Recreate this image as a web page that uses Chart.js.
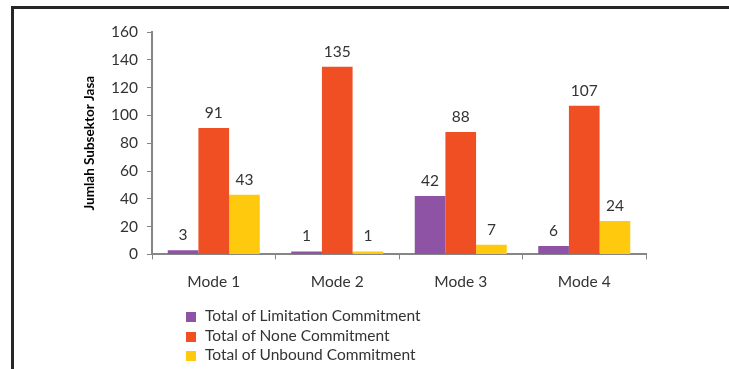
<!DOCTYPE html>
<html>
<head>
<meta charset="utf-8">
<script src="https://cdn.jsdelivr.net/npm/chart.js@4"></script>
<style>
  body { margin: 0; background: #fff; }
  #wrap { position: relative; width: 729px; height: 369px; overflow: hidden; }
  #frame { position: absolute; left: 11px; top: 6px; width: 740px; height: 400px;
           border-top: 3px solid #262626; border-left: 3px solid #262626; }
  #chart { position: absolute; left: 0; top: 0; }
  #legend { position: absolute; left: 186px; top: 306px; font: 15.5px Lato, sans-serif; color: #333; }
  #legend div { height: 19.7px; line-height: 19.7px; white-space: nowrap; }
  #legend span { display: inline-block; width: 10px; height: 10px; margin-right: 9px; vertical-align: -1px; }
</style>
</head>
<body>
<div id="wrap">
  <div id="frame"></div>
  <canvas id="chart" width="729" height="369"></canvas>
  <div id="legend"></div>
</div>
<script>
// Data
const categories = ["Mode 1", "Mode 2", "Mode 3", "Mode 4"];
const seriesNames = ["Total of Limitation Commitment", "Total of None Commitment", "Total of Unbound Commitment"];
const limitation = [3, 1, 42, 6];
const none = [91, 135, 88, 107];
const unbound = [43, 1, 7, 24];
const colors = ["#8E53A4", "#F04E23", "#FFC90E"];

const FONT = "Lato, sans-serif";

// Value labels above the bars
const barLabels = {
  id: "barLabels",
  afterDatasetsDraw(chart) {
    const ctx = chart.ctx;
    ctx.save();
    ctx.font = "15.5px " + FONT;
    ctx.fillStyle = "#333";
    ctx.textAlign = "center";
    ctx.textBaseline = "middle";
    chart.data.datasets.forEach((ds, i) => {
      chart.getDatasetMeta(i).data.forEach((bar, j) => {
        ctx.fillText(ds.data[j], bar.x, bar.y - 15);
      });
    });
    ctx.restore();
  }
};

const values = [limitation, none, unbound];

new Chart(document.getElementById("chart").getContext("2d"), {
  type: "bar",
  data: {
    labels: categories,
    datasets: seriesNames.map((name, i) => ({
      label: name,
      data: values[i],
      backgroundColor: colors[i],
      categoryPercentage: 0.745,
      barPercentage: 1,
      minBarLength: 3
    }))
  },
  options: {
    responsive: false,
    animation: false,
    layout: { padding: { left: 80, top: 32, right: 83, bottom: 65 } },
    plugins: { legend: { display: false }, tooltip: { enabled: false } },
    scales: {
      x: {
        grid: { drawOnChartArea: false, tickLength: 5, color: "#868686", offset: true },
        border: { color: "#868686", width: 2 },
        ticks: { font: { family: FONT, size: 15.5 }, color: "#333", padding: 13 }
      },
      y: {
        min: 0, max: 160,
        afterFit(scale) { scale.width = 72; },
        grid: { drawOnChartArea: false, tickLength: 5, color: "#868686" },
        border: { color: "#868686", width: 2 },
        ticks: { stepSize: 20, font: { family: FONT, size: 15.5 }, color: "#333", padding: 9 },
        title: {
          display: true, text: "Jumlah Subsektor Jasa",
          font: { family: FONT, size: 13.5, weight: "bold" }, color: "#000",
          padding: { top: 2, bottom: 0 }
        }
      }
    }
  },
  plugins: [barLabels]
});

// Stacked legend, one entry per line
const legend = document.getElementById("legend");
seriesNames.forEach((name, i) => {
  const row = document.createElement("div");
  row.innerHTML = `<span style="background:${colors[i]}"></span>${name}`;
  legend.appendChild(row);
});
</script>
</body>
</html>
